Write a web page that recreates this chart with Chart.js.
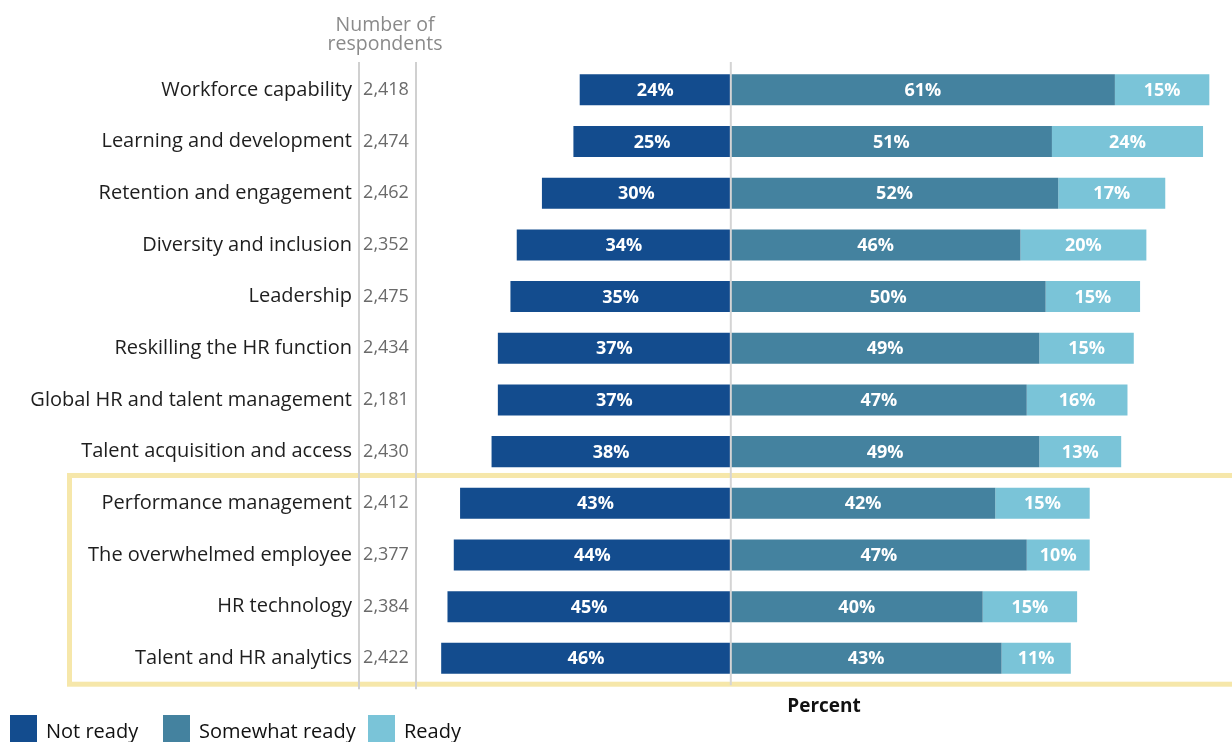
<!DOCTYPE html>
<html>
<head>
<meta charset="utf-8">
<script src="https://cdn.jsdelivr.net/npm/chart.js@4.4.1/dist/chart.umd.min.js"></script>
<style>
  html, body { margin: 0; padding: 0; background: #fff; overflow: hidden; }
  #wrap { width: 1232px; height: 742px; position: relative; }
</style>
</head>
<body>
<div id="wrap"><canvas id="readiness"></canvas></div>
<script>
const categories = [
    'Workforce capability', 'Learning and development', 'Retention and engagement',
    'Diversity and inclusion', 'Leadership', 'Reskilling the HR function',
    'Global HR and talent management', 'Talent acquisition and access',
    'Performance management', 'The overwhelmed employee', 'HR technology',
    'Talent and HR analytics'
];
const respondents = ['2,418', '2,474', '2,462', '2,352', '2,475', '2,434', '2,181', '2,430', '2,412', '2,377', '2,384', '2,422'];
const notReady = [24, 25, 30, 34, 35, 37, 37, 38, 43, 44, 45, 46];
const somewhatReady = [61, 51, 52, 46, 50, 49, 47, 49, 42, 47, 40, 43];
const ready = [15, 24, 17, 20, 15, 15, 16, 13, 15, 10, 15, 11];
const seriesNames = ['Not ready', 'Somewhat ready', 'Ready'];
const seriesColors = ['#134c8e', '#44829f', '#7ac4d8'];
const highlightFrom = 8; // rows framed in yellow

const FONT = '"Open Sans", "Noto Sans", sans-serif';
const legendX = [10, 163, 368];

// Texte, cadre et légende dessinés autour du graphique
const decorPlugin = {
    id: 'decor',
    beforeDatasetsDraw(chart) {
        const ctx = chart.ctx;
        const y = chart.scales.y;
        const area = chart.chartArea;
        const half = (y.getPixelForValue(1) - y.getPixelForValue(0)) / 2;

        // cadre jaune
        ctx.save();
        ctx.strokeStyle = '#f6e7aa';
        ctx.lineWidth = 5;
        const top = y.getPixelForValue(highlightFrom) - half - 2;
        const bottom = y.getPixelForValue(categories.length - 1) + half;
        ctx.strokeRect(69.5, top, 1300, bottom - top);

        // lignes verticales de la colonne des répondants
        ctx.strokeStyle = '#d0d0d0';
        ctx.lineWidth = 2;
        [359, 416].forEach(x => {
            ctx.beginPath();
            ctx.moveTo(x, area.top - 2);
            ctx.lineTo(x, area.bottom + 5);
            ctx.stroke();
        });

        // en-tête
        ctx.fillStyle = '#8a8a8a';
        ctx.font = '19.5px ' + FONT;
        ctx.textAlign = 'center';
        ctx.textBaseline = 'middle';
        ctx.fillText('Number of', 385, 25);
        ctx.fillText('respondents', 385, 44);

        // libellés et effectifs
        categories.forEach((cat, i) => {
            const py = y.getPixelForValue(i);
            ctx.fillStyle = '#1e1e1e';
            ctx.font = '20px ' + FONT;
            ctx.textAlign = 'right';
            ctx.fillText(cat, 352, py);
            ctx.fillStyle = '#6a6a6a';
            ctx.font = '18px ' + FONT;
            ctx.textAlign = 'center';
            ctx.fillText(respondents[i], 386, py);
        });

        // légende
        seriesNames.forEach((name, i) => {
            const lx = legendX[i];
            ctx.fillStyle = seriesColors[i];
            ctx.fillRect(lx, 715, 27, 27);
            ctx.fillStyle = '#111';
            ctx.font = '20px ' + FONT;
            ctx.textAlign = 'left';
            ctx.textBaseline = 'middle';
            ctx.fillText(name, lx + 36, 732);
        });
        ctx.restore();
    },
    afterDatasetsDraw(chart) {
        const ctx = chart.ctx;
        const x0 = chart.scales.x.getPixelForValue(0);
        const area = chart.chartArea;
        ctx.save();
        ctx.strokeStyle = '#d4d4d4';
        ctx.lineWidth = 2;
        ctx.beginPath();
        ctx.moveTo(x0, area.top - 2);
        ctx.lineTo(x0, area.bottom + 1);
        ctx.stroke();

        // étiquettes de pourcentage
        ctx.fillStyle = '#fff';
        ctx.font = 'bold 18px ' + FONT;
        ctx.textAlign = 'center';
        ctx.textBaseline = 'middle';
        chart.data.datasets.forEach((ds, di) => {
            chart.getDatasetMeta(di).data.forEach((bar, i) => {
                const cx = (bar.x + bar.base) / 2;
                ctx.fillText(Math.abs(ds.data[i]) + '%', cx, bar.y + 1);
            });
        });
        ctx.restore();
    }
};

new Chart(document.getElementById('readiness'), {
    type: 'bar',
    data: {
        labels: categories,
        datasets: [
            { label: seriesNames[0], data: notReady.map(v => -v), backgroundColor: seriesColors[0] },
            { label: seriesNames[1], data: somewhatReady, backgroundColor: seriesColors[1] },
            { label: seriesNames[2], data: ready, backgroundColor: seriesColors[2] }
        ]
    },
    options: {
        indexAxis: 'y',
        responsive: true,
        maintainAspectRatio: false,
        animation: false,
        layout: { padding: { top: 64, bottom: 24, left: 0, right: 0 } },
        datasets: {
            bar: { barPercentage: 0.6, categoryPercentage: 1, borderWidth: 0 }
        },
        scales: {
            x: {
                stacked: true,
                min: -50,
                max: 79.6,
                grid: { display: false, drawTicks: false },
                border: { display: false },
                ticks: { display: false },
                title: {
                    display: true,
                    text: 'Percent',
                    color: '#111',
                    font: { family: FONT, size: 19, weight: 'bold' },
                    padding: { top: 11, bottom: 0 }
                }
            },
            y: {
                stacked: true,
                grid: { display: false },
                border: { display: false },
                ticks: { display: false },
                afterFit: (scale) => { scale.width = 416; }
            }
        },
        plugins: {
            legend: { display: false },
            tooltip: { enabled: false }
        }
    },
    plugins: [decorPlugin]
});
</script>
</body>
</html>
